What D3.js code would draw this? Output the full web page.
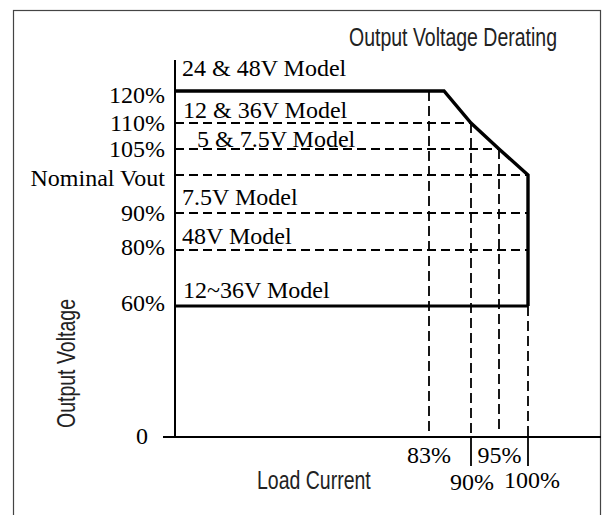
<!DOCTYPE html>
<html><head><meta charset="utf-8">
<script src="https://cdn.jsdelivr.net/npm/d3@7"></script>
<style>
html,body{margin:0;padding:0;background:#fff;}
svg{display:block;}
</style></head>
<body>
<svg id="c" width="607" height="515"></svg>
<script>
// ---- data ----
const yTicks = [0, 60, 80, 90, 100, 105, 110, 120];
const yTickLabels = ["0", "60%", "80%", "90%", "Nominal Vout", "105%", "110%", "120%"];
const xTicks = [83, 90, 95, 100];
const xTickLabels = ["83%", "90%", "95%", "100%"];
// derating curve (load %, output %)
const curveLoad = [0, 85.5, 90, 95, 100, 100];
const curveVout = [120, 120, 110, 105, 100, 60];
const lowLineLoad = [0, 100];
const lowLineVout = [60, 60];
// dashed guide lines: horizontal (vout, end load) and vertical (load, top vout)
const hGuideVout = [110, 105, 100, 90, 80];
const hGuideEnd = [90, 95, 100, 100, 100];
const vGuideLoad = [83, 90, 95, 100];
const vGuideTop = [120, 110, 105, 60];
const modelLabels = ["24 & 48V Model", "12 & 36V Model", "5 & 7.5V Model", "7.5V Model", "48V Model", "12~36V Model"];
const modelLabelVout = [120, 110, 105, 100, 90, 60];

// ---- scales ----
const x = d3.scaleLinear().domain([0, 83, 90, 95, 100, 112.7]).range([175, 429, 471, 499, 528, 601]);
const y = d3.scaleLinear().domain([0, 60, 80, 90, 100, 105, 110, 120]).range([437, 306, 250, 213, 175, 149, 123, 91]);

const svg = d3.select("#c");
const serif = "'Liberation Serif','Times New Roman',serif";
const sans = "'Liberation Sans',Arial,sans-serif";
const serifSize = 24;
const sansSize = 25;
const narrow = 0.78;

// frame
svg.append("rect").attr("x", 13.5).attr("y", 10.5).attr("width", 587).attr("height", 520)
  .attr("fill", "none").attr("stroke", "#444").attr("stroke-width", 1.2);

// title (condensed sans)
svg.append("text").attr("transform", `translate(557,46) scale(${narrow},1)`).attr("text-anchor", "end")
  .attr("font-family", sans).attr("font-size", sansSize).attr("fill", "#222")
  .text("Output Voltage Derating");

// dashed horizontal guides
svg.append("g").selectAll("line").data(hGuideVout).join("line")
  .attr("x1", x(0)).attr("x2", (d, i) => x(hGuideEnd[i]))
  .attr("y1", d => y(d)).attr("y2", d => y(d))
  .attr("stroke", "#000").attr("stroke-width", 1.8).attr("stroke-dasharray", "9,5");

// dashed vertical guides
svg.append("g").selectAll("line").data(vGuideLoad).join("line")
  .attr("x1", d => x(d)).attr("x2", d => x(d))
  .attr("y1", (d, i) => y(vGuideTop[i])).attr("y2", (d, i) => d === 95 ? y(0) - 7 : y(0))
  .attr("stroke", "#000").attr("stroke-width", 1.8).attr("stroke-dasharray", "10,5");

// solid ticks below axis for 90% and 100%
svg.append("g").selectAll("line").data([90, 100]).join("line")
  .attr("x1", d => x(d)).attr("x2", d => x(d))
  .attr("y1", y(0)).attr("y2", y(0) + 29)
  .attr("stroke", "#000").attr("stroke-width", 1.8);

// axes
svg.append("line").attr("x1", x(0)).attr("x2", x(0)).attr("y1", 60).attr("y2", y(0))
  .attr("stroke", "#000").attr("stroke-width", 2);
svg.append("line").attr("x1", x(0) - 12).attr("x2", x(112.7)).attr("y1", y(0)).attr("y2", y(0))
  .attr("stroke", "#000").attr("stroke-width", 2.2);

// curves
const line = d3.line().x(d => x(d[0])).y(d => y(d[1]));
svg.append("path").attr("d", line(curveLoad.map((v, i) => [v, curveVout[i]])))
  .attr("fill", "none").attr("stroke", "#000").attr("stroke-width", 3.4).attr("stroke-linejoin", "miter");
svg.append("path").attr("d", line(lowLineLoad.map((v, i) => [v, lowLineVout[i]])))
  .attr("fill", "none").attr("stroke", "#000").attr("stroke-width", 3);

// y tick labels
const yDy = [7, 5, 5, 8, 11, 8, 8, 12];
svg.append("g").selectAll("text").data(yTicks).join("text")
  .attr("x", d => d === 0 ? 148 : 165).attr("y", (d, i) => y(d) + yDy[i])
  .attr("text-anchor", "end").attr("font-family", serif).attr("font-size", serifSize).attr("fill", "#000")
  .text((d, i) => yTickLabels[i]);

// x tick labels
const xLabX = [429, 472, 499.5, 532];
const xLabY = [463, 490, 463, 488];
svg.append("g").selectAll("text").data(xTicks).join("text")
  .attr("x", (d, i) => xLabX[i]).attr("y", (d, i) => xLabY[i])
  .attr("text-anchor", "middle").attr("font-family", serif).attr("font-size", serifSize).attr("fill", "#000")
  .text((d, i) => xTickLabels[i]);

// model labels
const mDy = [-15, -5, -2, 30, 31, -8];
const mX = [182, 183, 197, 182, 182, 183];
svg.append("g").selectAll("text").data(modelLabels).join("text")
  .attr("x", (d, i) => mX[i]).attr("y", (d, i) => y(modelLabelVout[i]) + mDy[i])
  .attr("font-family", serif).attr("font-size", serifSize).attr("fill", "#000")
  .text(d => d);

// axis titles (condensed sans)
svg.append("text").attr("transform", `translate(257,489) scale(${narrow},1)`)
  .attr("font-family", sans).attr("font-size", sansSize).attr("fill", "#222")
  .text("Load Current");
svg.append("text").attr("transform", `translate(75,363.5) rotate(-90) scale(${narrow},1)`)
  .attr("text-anchor", "middle")
  .attr("font-family", sans).attr("font-size", sansSize).attr("fill", "#222")
  .text("Output Voltage");
</script>
</body></html>
